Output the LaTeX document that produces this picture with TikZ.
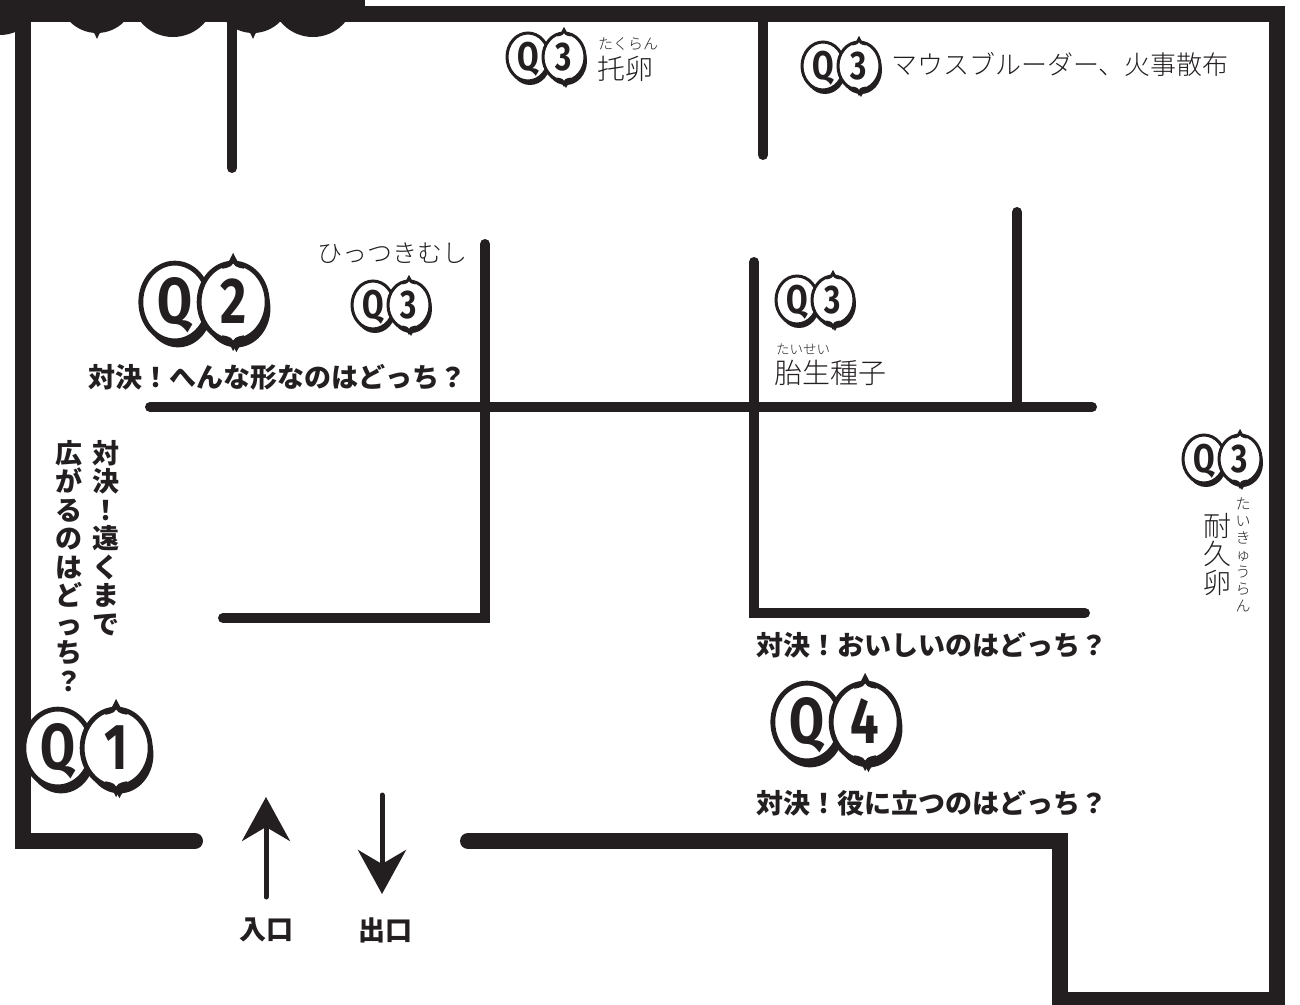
\documentclass[tikz,border=0pt]{standalone}
\usepackage{fontspec}
\newfontfamily\jpfont{Noto Sans CJK JP}
\IfFontExistsTF{Noto Sans CJK JP Light}
  {\newfontfamily\jplight{Noto Sans CJK JP Light}}
  {\newfontfamily\jplight{Noto Sans CJK JP}}
\newfontfamily\qfont{Fira Sans}[FakeStretch=0.78]
\usetikzlibrary{arrows.meta}
\definecolor{ink}{HTML}{231F20}

\tikzset{
  pics/qbadge/.style n args={2}{code={
    \pgfmathsetmacro\qsize{40*#2}
    \begin{scope}[scale=#2, line width=3pt*#2]
      % shadow
      \begin{scope}[shift={(2,4)}]
        \fill[ink] (-18,0) ellipse [x radius=21, y radius=24];
        \fill[ink] (18,0) ellipse [x radius=21, y radius=24];
        \fill[ink] (11,-22) .. controls (16,-23) .. (18,-27) .. controls (20,-23) .. (25,-22) -- cycle;
        \fill[ink] (11,22) .. controls (16,23) .. (18,27) .. controls (20,23) .. (25,22) -- cycle;
      \end{scope}
      \filldraw[fill=white, draw=ink] (-18,0) ellipse [x radius=21, y radius=24];
      \filldraw[fill=white, draw=ink] (18,0) ellipse [x radius=21, y radius=24];
      \filldraw[fill=white, draw=ink] (11,-22) .. controls (16,-23) .. (18,-27) .. controls (20,-23) .. (25,-22);
      \filldraw[fill=white, draw=ink] (11,22) .. controls (16,23) .. (18,27) .. controls (20,23) .. (25,22);
      \node[anchor=base, font=\qfont\bfseries\fontsize{\qsize}{\qsize}\selectfont] (-q) at (-18,13.5) {Q};
      \node[anchor=base, font=\qfont\bfseries\fontsize{\qsize}{\qsize}\selectfont] (-n) at (18,13.5) {#1};
    \end{scope}
  }}
}

\begin{document}
\begin{tikzpicture}[x=1pt, y=-1pt,
    wall/.style={draw=ink, line width=16pt, line join=miter, line cap=round},
    part/.style={draw=ink, line width=10pt, line cap=round},
    every node/.style={inner sep=0pt, text=ink},
    duel/.style={font=\jpfont\bfseries\fontsize{27}{28.5}\selectfont},
    term/.style={font=\jplight\fontsize{#1}{28.5}\selectfont},
    term/.default=28,
    ruby/.style={font=\jplight\fontsize{#1}{17}\selectfont},
    ruby/.default=15,
    way/.style={draw=ink, line width=5pt, line cap=round,
      -{Stealth[length=44pt, width=48pt, inset=14pt]}}]

  \useasboundingbox (0,0) rectangle (1300,1004);

  % title banner, cut off at the top
  \fill[ink] (0,0) rectangle (365,22);
  \foreach \cx/\r in {0/40, 97/38, 173/42, 253/38, 313/42}
    \fill[ink] (\cx,-5) circle [radius=\r];
  \foreach \cx in {97, 253}
    \fill[ink] (\cx-12,27) .. controls (\cx-4,30) .. (\cx,39) .. controls (\cx+4,30) .. (\cx+12,27) -- cycle;

  % outer walls
  \draw[wall] (23,20) -- (23,841) -- (195,841);
  \draw[wall] (360,14) -- (1277,14) -- (1277,1000) -- (1060,1000) -- (1060,841) -- (468,841);

  % inner walls
  \draw[part] (232,14) -- (232,168);
  \draw[part] (763,14) -- (763,155);
  \draw[part] (1017,212) -- (1017,407);
  \draw[part] (150,407) -- (1092,407);
  \draw[part] (485,244) -- (485,618) -- (223,618);
  \draw[part] (754,262) -- (754,613) -- (1085,613);

  % badges
  \pic (q1) at (87,748) {qbadge={1}{1.62}};
  \pic (q2) at (204,302) {qbadge={2}{1.62}};
  \pic (q3a) at (546,57) {qbadge={3}{1}};
  \pic (q3b) at (841,66) {qbadge={3}{1}};
  \pic (q3c) at (391,305) {qbadge={3}{1}};
  \pic (q3d) at (815,300) {qbadge={3}{1}};
  \pic (q3e) at (1222,459) {qbadge={3}{1}};
  \pic (q4) at (836,722) {qbadge={4}{1.62}};

  % questions
  \node[duel, anchor=west] (duel2) at (88,377) {対決！へんな形なのはどっち？};
  \node[duel, anchor=west] (duel4a) at (756,645) {対決！おいしいのはどっち？};
  \node[duel, anchor=west] (duel4b) at (756,803) {対決！役に立つのはどっち？};
  \node[duel, anchor=north, align=center] (duel1a) at (106,440) {対\\決\\！\\遠\\く\\ま\\で};
  \node[duel, anchor=north, align=center] (duel1b) at (69,440) {広\\が\\る\\の\\は\\ど\\っ\\ち\\？};

  % answers
  \node[ruby, anchor=west] (takuranR) at (598,44) {たくらん};
  \node[term, anchor=west] (takuran) at (597,69) {托卵};
  \node[term=26, anchor=west] (mouse) at (891,64) {マウスブルーダー、火事散布};
  \node[term=25] (hittsuki) at (392,253) {ひっつきむし};
  \node[ruby=13.5, anchor=west] (taiseiR) at (776,349) {たいせい};
  \node[term, anchor=west] (taisei) at (774,373) {胎生種子};
  \node[term, anchor=north, align=center] (taikyu) at (1217,513) {耐\\久\\卵};
  \node[ruby, anchor=north, align=center] (taikyuR) at (1243,498) {た\\い\\き\\ゅ\\う\\ら\\ん};

  % entrance and exit
  \coordinate (inFoot) at (266,897);
  \coordinate (inHead) at (266,797);
  \coordinate (outFoot) at (382,795);
  \coordinate (outHead) at (382,894);
  \draw[way] (inFoot) -- (inHead);
  \draw[way] (outFoot) -- (outHead);
  \node[duel] (entry) at (266,930) {入口};
  \node[duel] (exit) at (385,930) {出口};

\end{tikzpicture}
\end{document}
